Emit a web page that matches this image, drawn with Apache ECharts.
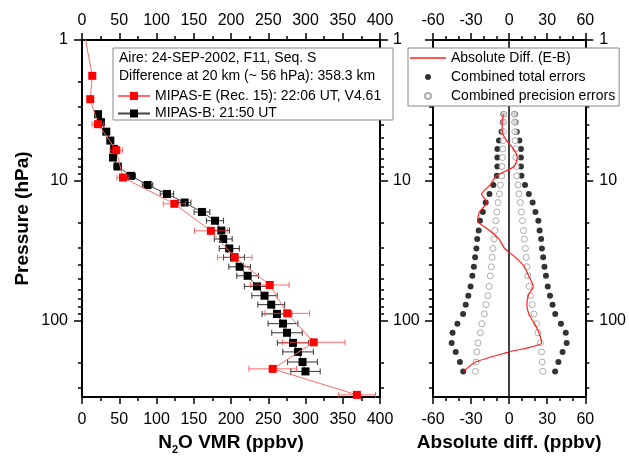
<!DOCTYPE html>
<html><head><meta charset="utf-8">
<script src="https://cdn.jsdelivr.net/npm/echarts@6/dist/echarts.min.js"></script>
<style>html,body{margin:0;padding:0;background:#fff}#c{width:629px;height:462px}</style>
</head><body><div id="c"></div>
<script>
// ---- data ----
// MIPAS-B levels
const pressureB = [3.38, 3.85, 4.5, 5.21, 5.97, 6.88, 7.97, 9.29, 10.8, 12.5, 14.4, 16.8, 19.4, 22.8, 26.2, 30.6, 35.4, 41.3, 47.9, 57.0, 66.4, 76.9, 89.6, 105, 122, 144, 167, 197, 230];
const vmrB = [21.5, 25.5, 32.6, 38, 43, 41.6, 47.8, 65.8, 88, 114, 137.7, 161, 178.5, 187, 189.6, 197.7, 204, 211.6, 222.3, 234.9, 245, 254, 261.7, 269.8, 275.2, 283.2, 290, 296, 300];
const errB = [3, 3, 3, 3.5, 4, 4.5, 5, 6, 7, 9, 8.5, 10.5, 11.5, 11, 12, 13.5, 14, 14.5, 14.5, 17, 17, 18, 20, 20, 20.5, 21, 20.5, 20, 19.7];
// MIPAS-E levels
const pressureE = [0.95, 1.80, 2.64, 3.98, 6.1, 9.55, 14.7, 22.9, 35.4, 55.7, 88.7, 142.7, 220.6, 338];
const vmrE = [4, 13.8, 11.1, 21.5, 46, 55, 124, 173, 205, 252, 275.5, 311, 256, 369];
const errE = [0, 3, 3, 8, 8.5, 8, 15, 22, 23, 26, 30, 42, 32, 25];
// right panel (on MIPAS-B levels)
const totalErr = [4.5, 5, 6, 8, 9.3, 9.3, 9.3, 9.7, 12.5, 15.5, 18.5, 20.7, 23, 24, 25.2, 25.8, 26.8, 27.8, 29, 30.4, 32.2, 34.2, 36.3, 40.8, 44.6, 45.3, 42.1, 38.8, 36.2];
const precErr = [4, 4.3, 4.5, 4.7, 5, 5.3, 5.6, 5.9, 7, 7.7, 8.8, 9.7, 10.5, 11.3, 12, 12.8, 13.4, 14, 14.8, 15.8, 16.8, 18.2, 19.5, 21.5, 22.7, 24.6, 25.5, 26, 26.5];
const absDiff = [-4.4, -5.5, -5.5, -2, 3.4, 6.4, 4, -10, -15, -21.7, -17.4, -23.5, -24.8, -15.5, -8, -3.5, 5, 12, 15.3, 19, 15, 14, 15.5, 20, 23.5, 25.5, 0, -26.5, -36];
// ticks
const majorLogTicks = [1, 10, 100];
const minorLogTicks = [2, 3, 4, 5, 6, 7, 8, 9, 20, 30, 40, 50, 60, 70, 80, 90, 200, 300];
const infoLines = ['Aire: 24-SEP-2002, F11, Seq. S', 'Difference at 20 km (~ 56 hPa): 358.3 km'];
const nameE = 'MIPAS-E (Rec. 15): 22:06 UT, V4.61';
const nameB = 'MIPAS-B: 21:50 UT';
const nameDiff = 'Absolute Diff. (E-B)';
const nameTot = 'Combined total errors';
const namePrec = 'Combined precision errors';

// ---- chart ----
const FONT = '"Liberation Sans", Arial, sans-serif';
const chart = echarts.init(document.getElementById('c'), null, {renderer: 'canvas'});
const LINE = {color: '#000', width: 2};
const TICK = {color: '#000', width: 1.5};

function xAx(grid, pos, min, max, interval, minorSplit, name) {
  const a = {
    type: 'value', gridIndex: grid, position: pos, min, max, interval,
    axisLine: {show: true, onZero: false, lineStyle: LINE},
    axisTick: {show: true, inside: false, length: 7, lineStyle: TICK},
    minorTick: {show: true, splitNumber: minorSplit, length: 4, lineStyle: TICK},
    axisLabel: {show: true, margin: pos === 'top' ? 11 : 15, fontSize: 16, color: '#000', fontFamily: FONT},
    splitLine: {show: false}, minorSplitLine: {show: false}
  };
  if (name) {
    a.name = name; a.nameLocation = 'middle'; a.nameGap = 30;
    a.nameTextStyle = {fontSize: 19, fontWeight: 'bold', color: '#000', fontFamily: FONT,
      rich: {
        n: {fontSize: 19, fontWeight: 'bold', fontFamily: FONT, color: '#000', verticalAlign: 'top', lineHeight: 20},
        s: {fontSize: 11, fontWeight: 'bold', fontFamily: FONT, color: '#000', verticalAlign: 'top', lineHeight: 11, padding: [12, 0, 0, 0]}
      }};
  }
  return a;
}
function yMajor(grid, pos, showLabel, margin, name) {
  const a = {
    type: 'log', logBase: 10, gridIndex: grid, position: pos, inverse: true, min: 1, max: 350,
    axisLine: {show: true, onZero: false, lineStyle: LINE},
    axisTick: {show: true, inside: false, length: 8, lineStyle: TICK, customValues: majorLogTicks},
    axisLabel: {show: showLabel, margin, fontSize: 16, color: '#000', fontFamily: FONT, customValues: majorLogTicks,
      formatter: v => (majorLogTicks.indexOf(Math.round(v)) >= 0 ? String(Math.round(v)) : '')},
    splitLine: {show: false}
  };
  if (name) {
    a.name = name; a.nameLocation = 'middle'; a.nameGap = 50; a.nameRotate = 90;
    a.nameTextStyle = {fontSize: 19, fontWeight: 'bold', color: '#000', fontFamily: FONT};
  }
  return a;
}
function yMinor(grid, pos) {
  return {
    type: 'log', logBase: 10, gridIndex: grid, position: pos, inverse: true, min: 1, max: 350,
    axisLine: {show: false, onZero: false},
    axisTick: {show: true, inside: false, length: 4, lineStyle: TICK, customValues: minorLogTicks},
    axisLabel: {show: false},
    splitLine: {show: false}
  };
}

function errorBars(xi, yi, vals, press, errs, color, z) {
  return {
    type: 'custom', xAxisIndex: xi, yAxisIndex: yi, z, silent: true,
    data: vals.map((v, i) => [v, press[i], errs[i]]),
    encode: {x: 0, y: 1},
    renderItem(params, api) {
      const v = api.value(0), p = api.value(1), e = api.value(2);
      if (!e) return null;
      const a = api.coord([v - e, p]), b = api.coord([v + e, p]);
      const c = 3, st = {stroke: color, lineWidth: 1};
      return {type: 'group', children: [
        {type: 'line', shape: {x1: a[0], y1: a[1], x2: b[0], y2: b[1]}, style: st},
        {type: 'line', shape: {x1: a[0], y1: a[1] - c, x2: a[0], y2: a[1] + c}, style: st},
        {type: 'line', shape: {x1: b[0], y1: b[1] - c, x2: b[0], y2: b[1] + c}, style: st}
      ]};
    }
  };
}

const totData = [], precData = [];
pressureB.forEach((p, i) => {
  totData.push([-totalErr[i], p], [totalErr[i], p]);
  precData.push([-precErr[i], p], [precErr[i], p]);
});

const option = {
  animation: false,
  backgroundColor: '#fff',
  textStyle: {fontFamily: FONT},
  grid: [
    {left: 82, top: 40, width: 298, height: 357},
    {left: 433, top: 40, width: 157, height: 357}
  ],
  xAxis: [
    xAx(0, 'bottom', 0, 400, 50, 2, '{n|N}{s|2}{n|O VMR (ppbv)}'),
    xAx(0, 'top', 0, 400, 50, 2),
    xAx(1, 'bottom', -60, 60, 30, 3, '{n|Absolute diff. (ppbv)}'),
    xAx(1, 'top', -60, 60, 30, 3)
  ],
  yAxis: [
    yMajor(0, 'left', true, 14, 'Pressure (hPa)'),
    yMinor(0, 'left'),
    yMajor(0, 'right', true, 13),
    yMinor(0, 'right'),
    yMajor(1, 'left', false, 10),
    yMinor(1, 'left'),
    yMajor(1, 'right', true, 14),
    yMinor(1, 'right')
  ],
  legend: [
    {
      data: [nameE, nameB], orient: 'vertical', left: 117, top: 89,
      itemWidth: 32, itemHeight: 10, itemGap: 3.5, padding: 0, selectedMode: false, z: 12,
      textStyle: {fontSize: 14, color: '#000', fontFamily: FONT}
    },
    {
      data: [{name: nameDiff, icon: 'path://M0,0H36V1.3H0Z'}, nameTot, namePrec],
      orient: 'vertical', left: 408, top: 48,
      itemWidth: 36, itemHeight: 6, itemGap: 5, padding: [3, 4, 3, 2], selectedMode: false,
      borderColor: '#888', borderWidth: 1, backgroundColor: '#fff', z: 12,
      textStyle: {fontSize: 14, color: '#000', fontFamily: FONT}
    }
  ],
  graphic: [
    {type: 'rect', z: 10, shape: {x: 113, y: 48, width: 280, height: 72},
     style: {fill: '#fff', stroke: '#888', lineWidth: 1}},
    {type: 'text', z: 11, x: 119, y: 58, style: {text: infoLines[0], fontSize: 14, fill: '#000', fontFamily: FONT, verticalAlign: 'middle'}},
    {type: 'text', z: 11, x: 119, y: 76, style: {text: infoLines[1], fontSize: 14, fill: '#000', fontFamily: FONT, verticalAlign: 'middle'}}
  ],
  series: [
    errorBars(0, 0, vmrB, pressureB, errB, '#333', 2),
    {
      name: nameB, type: 'line', xAxisIndex: 0, yAxisIndex: 0, z: 3,
      data: vmrB.map((v, i) => [v, pressureB[i]]),
      symbol: 'rect', symbolSize: 8, showSymbol: true,
      itemStyle: {color: '#000'}, lineStyle: {color: '#444', width: 1}, clip: true
    },
    errorBars(0, 0, vmrE, pressureE, errE, 'rgba(255,70,70,0.8)', 4),
    {
      name: nameE, type: 'line', xAxisIndex: 0, yAxisIndex: 0, z: 5,
      data: vmrE.map((v, i) => [v, pressureE[i]]),
      symbol: 'rect', symbolSize: 8, showSymbol: true,
      itemStyle: {color: '#ff0000'}, lineStyle: {color: '#ff6a6a', width: 1}, clip: true
    },
    {
      name: nameTot, type: 'scatter', xAxisIndex: 2, yAxisIndex: 4, z: 3,
      data: totData, symbol: 'circle', symbolSize: 6, itemStyle: {color: '#000'},
      markLine: {silent: true, symbol: ['none', 'none'], label: {show: false},
        lineStyle: {color: '#000', width: 1.5, type: 'solid'}, data: [{xAxis: 0}]}
    },
    {
      name: namePrec, type: 'scatter', xAxisIndex: 2, yAxisIndex: 4, z: 4,
      data: precData, symbol: 'circle', symbolSize: 6,
      itemStyle: {color: '#fff', borderColor: '#999', borderWidth: 1}
    },
    {
      name: nameDiff, type: 'line', xAxisIndex: 2, yAxisIndex: 4, z: 5,
      data: absDiff.map((v, i) => [v, pressureB[i]]),
      symbol: 'none', smooth: 0.2, lineStyle: {color: '#ff2020', width: 1.2}, itemStyle: {color: '#ff2020'}
    }
  ]
};
chart.setOption(option);
</script>
</body></html>
